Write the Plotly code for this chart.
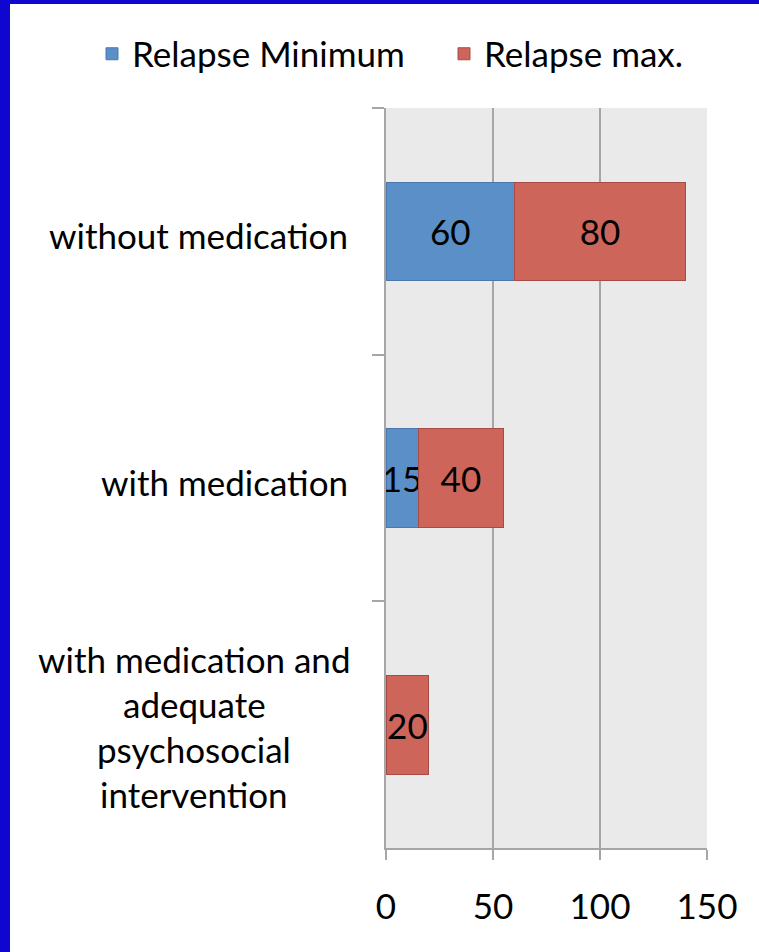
import plotly.graph_objects as go

# Relapse rates (%) by treatment condition
categories = [
    "without medication",
    "with medication",
    "with medication and adequate psychosocial intervention",
]
label_lines = [
    ["without medication"],
    ["with medication"],
    ["with medication and", "adequate", "psychosocial", "intervention"],
]
relapse_min = [60, 15, 0]
relapse_max_extra = [80, 40, 20]
x_ticks = [0, 50, 100, 150]

W, H = 759, 952
ML, MR, MT, MB = 386, 52, 108, 104
PW, PH = W - ML - MR, H - MT - MB

FONT = "Lato"
FS = 35
BLUE, BLUE_EDGE = "#5B8FC7", "#4A78AE"
RED, RED_EDGE = "#CD655B", "#A84B45"


def value_text(vals):
    return [str(v) if v else "" for v in vals]


fig = go.Figure()
fig.add_trace(go.Bar(
    y=categories, x=relapse_min, orientation="h", name="Relapse Minimum",
    marker=dict(color=BLUE, line=dict(color=BLUE_EDGE, width=1)),
    text=value_text(relapse_min), textposition="inside", insidetextanchor="middle",
    textfont=dict(family=FONT, size=FS, color="black"), hoverinfo="x+name",
    legend="legend",
))
fig.add_trace(go.Bar(
    y=categories, x=relapse_max_extra, orientation="h", name="Relapse max.",
    marker=dict(color=RED, line=dict(color=RED_EDGE, width=1)),
    text=value_text(relapse_max_extra), textposition="inside", insidetextanchor="middle",
    textfont=dict(family=FONT, size=FS, color="black"), hoverinfo="x+name",
    legend="legend2",
))

# Category labels: right-aligned block, lines centred within it
annotations = []
line_h = 45
for cat, lines in zip(categories, label_lines):
    n = len(lines)
    if n == 1:
        annotations.append(dict(
            x=0, xref="paper", y=cat, yref="y", text=lines[0], showarrow=False,
            xanchor="right", xshift=-36, yshift=-4,
            font=dict(family=FONT, size=FS, color="black"),
        ))
    else:
        for i, ln in enumerate(lines):
            annotations.append(dict(
                x=0, xref="paper", y=cat, yref="y", text=ln, showarrow=False,
                xanchor="center", xshift=-192,
                yshift=((n - 1) / 2 - i) * line_h - 2,
                font=dict(family=FONT, size=FS, color="black"),
            ))

# Blue frame along the left and top edges of the page
def px_x(px):
    return (px - ML) / PW


def px_y(py):
    return 1 - (py - MT) / PH


shapes = [
    dict(type="rect", xref="paper", yref="paper", x0=px_x(0), x1=px_x(10),
         y0=px_y(H), y1=px_y(0), fillcolor="#0F06CF", line=dict(width=0), layer="above"),
    dict(type="rect", xref="paper", yref="paper", x0=px_x(0), x1=px_x(W),
         y0=px_y(4), y1=px_y(0), fillcolor="#0F06CF", line=dict(width=0), layer="above"),
]

legend_common = dict(
    orientation="h", xref="container", yref="container",
    xanchor="left", y=1 - 54 / H, yanchor="middle",
    font=dict(family=FONT, size=FS, color="black"), bgcolor="rgba(0,0,0,0)",
)

fig.update_layout(
    width=W, height=H,
    margin=dict(l=ML, r=MR, t=MT, b=MB, pad=0),
    barmode="stack", bargap=0.6,
    paper_bgcolor="white", plot_bgcolor="#EAEAEA",
    font=dict(family=FONT, size=FS, color="black"),
    uniformtext=dict(minsize=FS, mode="show"),
    showlegend=True,
    legend=dict(x=92 / W, **legend_common),
    legend2=dict(x=444 / W, **legend_common),
    annotations=annotations,
    shapes=shapes,
)
fig.update_xaxes(
    range=[0, 150], tickvals=x_ticks, ticktext=[str(v) for v in x_ticks],
    showgrid=True, gridcolor="#A6A6A6", gridwidth=2,
    showline=True, linecolor="#A6A6A6", linewidth=2,
    ticks="outside", ticklen=10, tickwidth=2, tickcolor="#A6A6A6",
    ticklabelstandoff=17, zeroline=False,
    tickfont=dict(family=FONT, size=FS, color="black"),
)
fig.update_yaxes(
    autorange="reversed", showticklabels=False,
    showline=True, linecolor="#A6A6A6", linewidth=2,
    ticks="outside", tickson="boundaries", ticklen=12, tickwidth=2, tickcolor="#A6A6A6",
    showgrid=False, zeroline=False,
)

fig.write_html("out.html")
